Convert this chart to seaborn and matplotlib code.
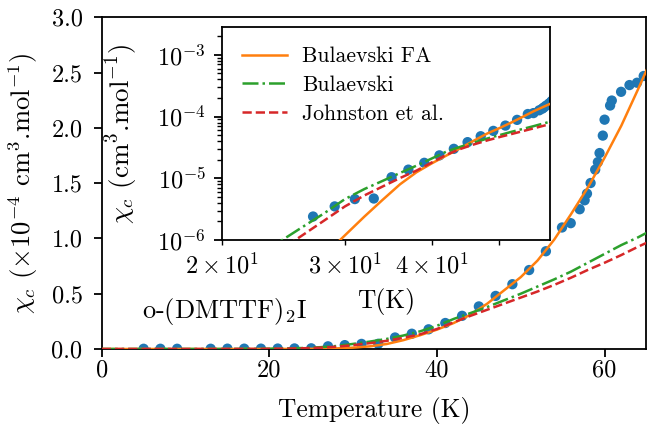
import matplotlib
matplotlib.use("Agg")
import matplotlib.pyplot as plt
import seaborn as sns
import pandas as pd

# ---------------- data (chi in units of 1e-4 cm^3/mol) ----------------
T_data = [5, 7, 9, 13, 15, 17, 19, 21, 23, 25, 27, 29, 31, 33, 35, 37, 39, 41,
          43, 45, 47, 49, 51, 53, 54.92, 55.96, 57.03, 57.62, 57.9, 58.33,
          58.88, 59.2, 59.4, 59.79, 60.0, 60.66, 60.86, 61.97, 62.97, 63.87, 64.67]
chi_data = [0.002, 0.002, 0.002, 0.002, 0.003, 0.003, 0.003, 0.004, 0.005, 0.006,
            0.024, 0.035, 0.046, 0.047, 0.104, 0.138, 0.178, 0.235,
            0.30, 0.385, 0.48, 0.586, 0.714, 0.884, 1.099, 1.138, 1.264, 1.345,
            1.405, 1.501, 1.622, 1.69, 1.772, 1.93, 2.074, 2.202, 2.247, 2.326,
            2.387, 2.408, 2.469]

T_fa = [0, 10, 20, 24, 26, 28, 30, 32, 34, 36, 38, 40, 42, 44, 46, 48, 50, 52,
        54, 56, 58, 60, 62, 64, 65]
chi_fa = [0.0, 0.0, 0.0002, 0.0012, 0.0025, 0.0056, 0.0119, 0.024, 0.045, 0.08,
          0.125, 0.175, 0.235, 0.31, 0.41, 0.53, 0.65, 0.80, 0.99, 1.22, 1.46,
          1.73, 2.02, 2.35, 2.52]

T_bul = [0, 10, 16, 18, 20, 22, 24, 26, 28, 30, 32, 34, 36, 38, 40, 42, 44, 46,
         48, 50, 52, 54, 56, 58, 60, 62, 64, 65]
chi_bul = [0.0, 0.0001, 0.0005, 0.001, 0.002, 0.0046, 0.0089, 0.0159, 0.027,
           0.046, 0.067, 0.091, 0.122, 0.16, 0.21, 0.272, 0.325, 0.38, 0.44,
           0.50, 0.565, 0.63, 0.70, 0.78, 0.86, 0.94, 1.01, 1.05]

T_joh = [0, 10, 16, 18, 20, 22, 24, 26, 28, 30, 32, 34, 36, 38, 40, 42, 44, 46,
         48, 50, 52, 54, 56, 58, 60, 62, 64, 65]
chi_joh = [0.0, 0.0001, 0.0003, 0.0007, 0.0015, 0.0033, 0.0064, 0.0117, 0.0206,
           0.035, 0.0528, 0.0738, 0.101, 0.133, 0.181, 0.242, 0.30, 0.355,
           0.41, 0.465, 0.52, 0.58, 0.645, 0.715, 0.78, 0.85, 0.925, 0.96]

main_xticks = [0, 20, 40, 60]
main_yticks = [0.0, 0.5, 1.0, 1.5, 2.0, 2.5, 3.0]
labels = ["Bulaevski FA", "Bulaevski", "Johnston et al."]
colors = ["#ff7f0e", "#2ca02c", "#d62728"]
styles = ["-", "-.", "--"]

# ---------------- style ----------------
plt.rcParams['font.family'] = 'serif'
plt.rcParams['font.serif'] = ['cmr10', 'DejaVu Serif']
plt.rcParams['mathtext.fontset'] = 'cm'
plt.rcParams['axes.formatter.use_mathtext'] = True
plt.rcParams['axes.unicode_minus'] = False
plt.rcParams['axes.linewidth'] = 1.3
for a in ('xtick', 'ytick'):
    plt.rcParams[f'{a}.major.size'] = 5.8
    plt.rcParams[f'{a}.major.width'] = 1.3
    plt.rcParams[f'{a}.minor.size'] = 3.3
    plt.rcParams[f'{a}.minor.width'] = 1.0

LW = 1.8
MS = 55

df = pd.DataFrame({"T": T_data, "chi": chi_data})
fits = [(T_fa, chi_fa), (T_bul, chi_bul), (T_joh, chi_joh)]

fig = plt.figure(figsize=(6.47, 4.28), dpi=100)
ax = fig.add_axes([0.1572, 0.1846, 0.8420, 0.7750])

sns.scatterplot(data=df, x="T", y="chi", ax=ax, color="#1f77b4", s=MS,
                edgecolor="none", zorder=2)
for (tt, cc), lab, col, ls in zip(fits, labels, colors, styles):
    sns.lineplot(x=tt, y=cc, ax=ax, color=col, linestyle=ls, lw=LW,
                 sort=True, errorbar=None, zorder=3)

ax.set_xlim(0, 65)
ax.set_ylim(0, 3.0)
ax.set_xticks(main_xticks)
ax.set_yticks(main_yticks)
ax.set_xticklabels([str(v) for v in main_xticks])
ax.set_yticklabels([f"{v:.1f}" for v in main_yticks])
ax.tick_params(axis='x', labelsize=17.5, pad=1.5)
ax.tick_params(axis='y', labelsize=17.5, pad=8)
ax.set_xlabel("Temperature (K)", fontsize=18.3)
ax.xaxis.set_label_coords(0.5, -0.145)
ax.set_ylabel(r"$\chi_c$ ($\times 10^{-4}$ cm$^3$.mol$^{-1}$)", fontsize=19.2)
ax.yaxis.set_label_coords(-0.113, 0.5)
ax.text(14.6, 0.34, r"o-(DMTTF)$_2$I", fontsize=19, ha="center", va="center")

# ---------------- inset ----------------
axi = fig.add_axes([0.3436, 0.4393, 0.5065, 0.497])
df_i = pd.DataFrame({"T": T_data, "chi": [c * 1e-4 for c in chi_data]})
sns.scatterplot(data=df_i, x="T", y="chi", ax=axi, color="#1f77b4", s=MS,
                edgecolor="none", zorder=2)
for (tt, cc), lab, col, ls in zip(fits, labels, colors, styles):
    sns.lineplot(x=tt, y=[c * 1e-4 for c in cc], ax=axi, color=col,
                 linestyle=ls, lw=LW, sort=True, errorbar=None, label=lab,
                 zorder=3)
axi.set_xscale("log")
axi.set_yscale("log")
axi.set_xlim(20, 59.1)
axi.set_ylim(1e-6, 2.8e-3)
axi.tick_params(which="both", labelsize=17.5, pad=6)
axi.set_xlabel("T(K)", fontsize=18.3)
axi.xaxis.set_label_coords(0.5, -0.225)
axi.set_ylabel(r"$\chi_c$ (cm$^3$.mol$^{-1}$)", fontsize=19.4)
axi.yaxis.set_label_coords(-0.25, 0.5)
axi.legend(loc="upper left", frameon=False, fontsize=15.7, handlelength=2.07,
           handletextpad=0.7, labelspacing=0.42)

fig.savefig("out.png", dpi=100)
